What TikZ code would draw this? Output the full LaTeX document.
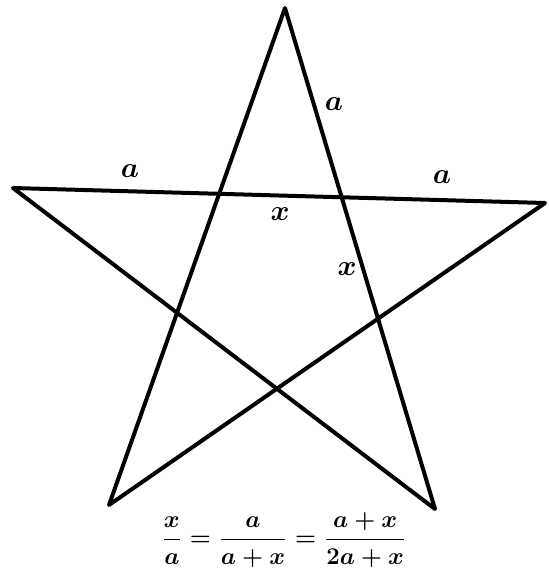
\documentclass[tikz,border=0pt]{standalone}
\usepackage{amsmath}

\begin{document}
\begin{tikzpicture}[
      x=0.5pt, y=-0.5pt,
      lbl/.style={inner sep=0pt, font=\fontsize{15}{18}\selectfont\boldmath},
      edge/.style={line width=2pt, line join=round}
    ]
    \useasboundingbox (0,0) rectangle (549,574);
    \coordinate (top) at (285,8);
    \coordinate (left) at (13,188);
    \coordinate (right) at (545,203);
    \coordinate (bl) at (109,505);
    \coordinate (br) at (435,509);
    \draw[edge] (top) -- (bl) -- (right) -- (left) -- (br) -- cycle;
    \node[lbl] (atop) at (334,104) {$a$};
    \node[lbl] (aleft) at (130,171) {$a$};
    \node[lbl] (aright) at (442,177) {$a$};
    \node[lbl] (xmid) at (280,214) {$x$};
    \node[lbl] (xside) at (347,269) {$x$};
    \node[lbl, font=\fontsize{13}{15}\selectfont\boldmath] (eq) at (284,540)
      {$\dfrac{x}{a} = \dfrac{a}{a+x} = \dfrac{a+x}{2a+x}$};
  \end{tikzpicture}
\end{document}
